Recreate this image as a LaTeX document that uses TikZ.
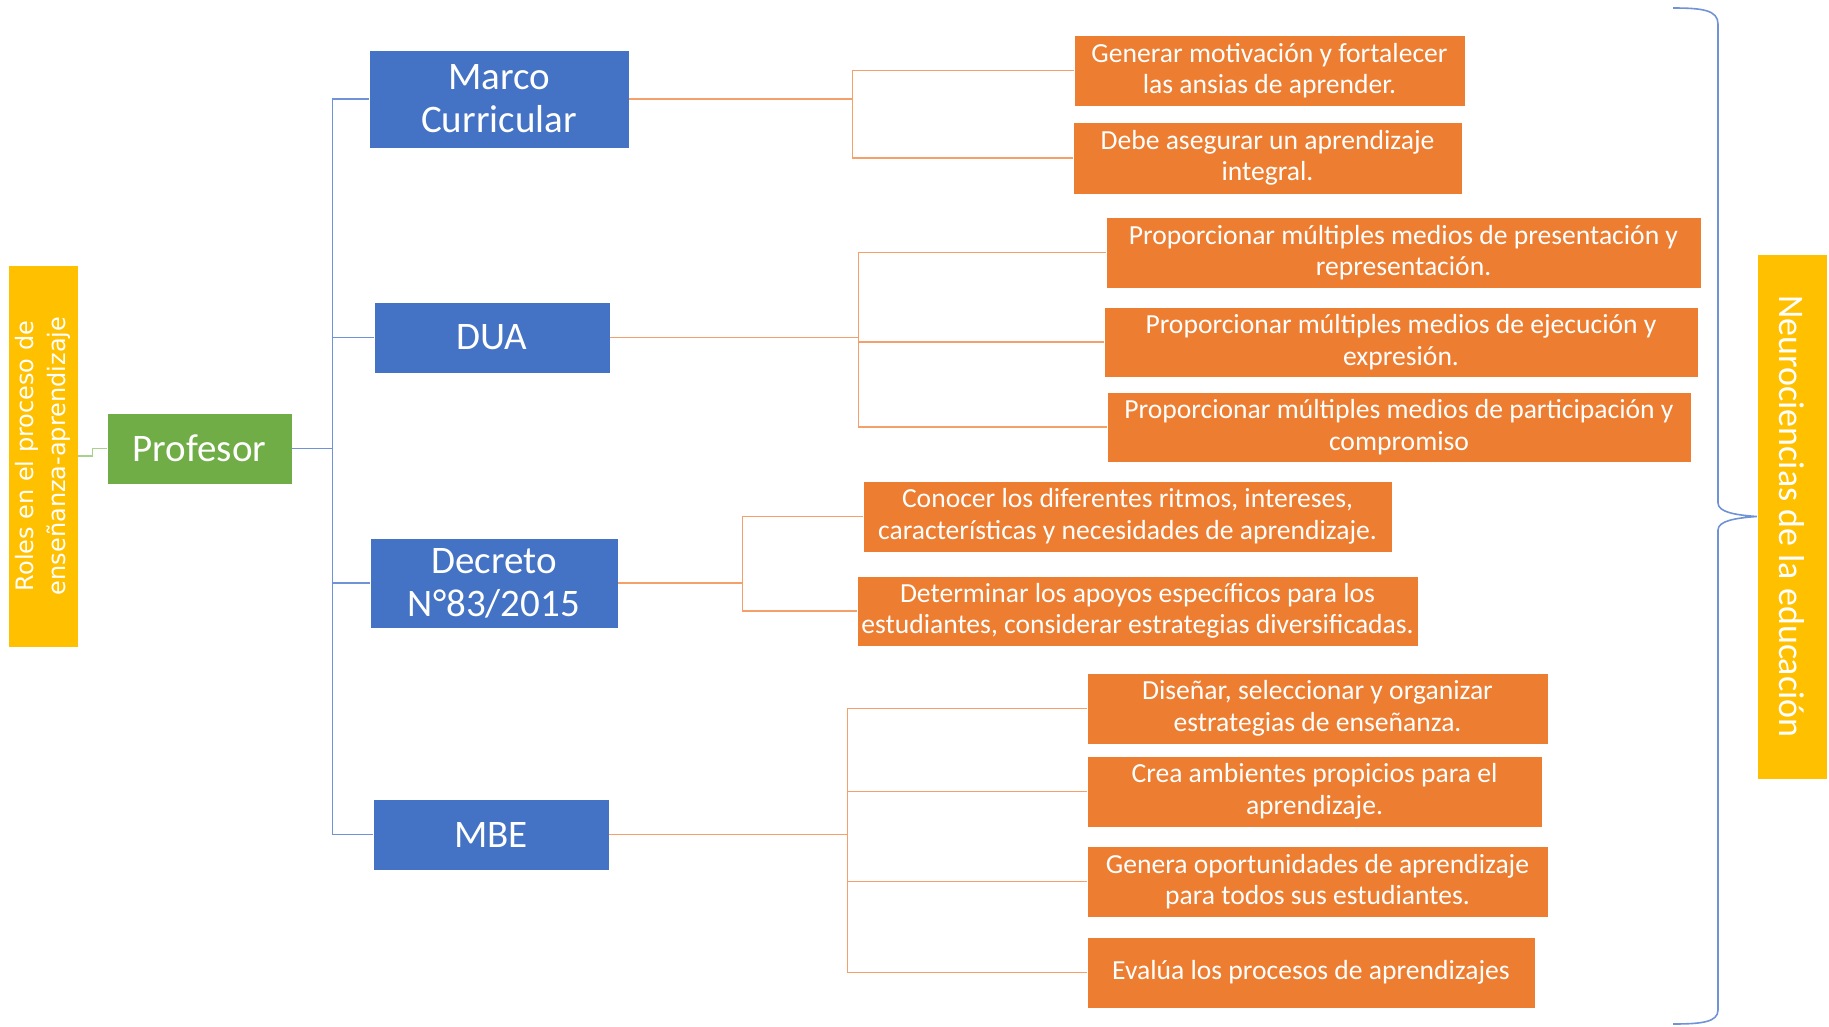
\documentclass[tikz,border=0pt]{standalone}
\usepackage{fontspec}
\setmainfont{Carlito}
\newfontfamily\dejavu{DejaVu Sans}
\definecolor{cblue}{HTML}{4472C4}
\definecolor{cgreen}{HTML}{70AD47}
\definecolor{corange}{HTML}{ED7D31}
\definecolor{cyellow}{HTML}{FFC000}
\definecolor{lblue}{HTML}{6F93D6}
\definecolor{lorange}{HTML}{F5A06A}
\definecolor{lgreen}{HTML}{A9D18E}
\tikzset{
  box/.style={rectangle, inner sep=0pt, text=white, align=center, draw=white, line width=0.6pt},
  bluebox/.style={box, fill=cblue, font=\fontsize{39}{43}\selectfont},
  orbox/.style={box, fill=corange, font=\fontsize{27.6}{31.5}\selectfont},
  yelbox/.style={box, fill=cyellow},
  blueline/.style={draw=lblue, line width=1.6pt},
  orline/.style={draw=lorange, line width=1.6pt},
  greenline/.style={draw=lgreen, line width=1.6pt},
}
\begin{document}
\begin{tikzpicture}[x=1pt,y=-1pt]
\useasboundingbox (0,0) rectangle (1829,1026);
% left title
\node[yelbox, rotate=90, minimum width=382pt, minimum height=70pt,
  font=\dejavu\fontsize{24}{32}\selectfont] (roles) at (43,456)
  {Roles en el proceso de\\enseñanza-aprendizaje};
\node[box, fill=cgreen, minimum width=185pt, minimum height=71pt,
  font=\fontsize{39}{43}\selectfont] (prof) at (199.5,448.5) {Profesor};
% blue boxes
\node[bluebox, minimum width=260pt, minimum height=98pt] (marco) at (499,99) {Marco\\Curricular};
\node[bluebox, minimum width=236pt, minimum height=71pt] (dua) at (492,337.5) {DUA};
\node[bluebox, minimum width=248pt, minimum height=90pt] (decreto) at (494,583) {Decreto\\N°83/2015};
\node[bluebox, minimum width=236pt, minimum height=71pt] (mbe) at (491,834.5) {MBE};
% orange boxes
\node[orbox, minimum width=391pt, minimum height=71pt] (o1) at (1269.5,70.5) {Generar motivación y fortalecer\\las ansias de aprender.};
\node[orbox, minimum width=389pt, minimum height=72pt] (o2) at (1267.5,158) {Debe asegurar un aprendizaje\\integral.};
\node[orbox, minimum width=595pt, minimum height=71pt] (o3) at (1403.5,252.5) {Proporcionar múltiples medios de presentación y\\representación.};
\node[orbox, minimum width=594pt, minimum height=70pt] (o4) at (1401,342) {Proporcionar múltiples medios de ejecución y\\expresión.};
\node[orbox, minimum width=584pt, minimum height=70pt] (o5) at (1399,427) {Proporcionar múltiples medios de participación y\\compromiso};
\node[orbox, minimum width=529pt, minimum height=71pt] (o6) at (1127.5,516.5) {Conocer los diferentes ritmos, intereses,\\características y necesidades de aprendizaje.};
\node[orbox, minimum width=561pt, minimum height=70pt] (o7) at (1137.5,611) {Determinar los apoyos específicos para los\\estudiantes, considerar estrategias diversificadas.};
\node[orbox, minimum width=461pt, minimum height=71pt] (o8) at (1317.5,708.5) {Diseñar, seleccionar y organizar\\estrategias de enseñanza.};
\node[orbox, minimum width=455pt, minimum height=71pt] (o9) at (1314.5,791.5) {Crea ambientes propicios para el\\aprendizaje.};
\node[orbox, minimum width=461pt, minimum height=71pt] (o10) at (1317.5,881.5) {Genera oportunidades de aprendizaje\\para todos sus estudiantes.};
\node[orbox, minimum width=448pt, minimum height=71pt] (o11) at (1311,972.5) {Evalúa los procesos de aprendizajes};
% right title
\node[yelbox, rotate=-90, minimum width=525pt, minimum height=70pt,
  font=\fontsize{36}{40}\selectfont] (neuro) at (1792,516.5) {Neurociencias de la educación};
% connectors
\draw[greenline] (roles.south) -- ++(14,0) |- (prof.west);
\foreach \t in {marco,dua,decreto,mbe}
  \draw[blueline] (prof.east) -- ++(40,0) |- (\t.west);
\foreach \t in {o1,o2}
  \draw[orline] (marco.east) -- ++(223,0) |- (\t.west);
\foreach \t in {o3,o4,o5}
  \draw[orline] (dua.east) -- ++(248,0) |- (\t.west);
\foreach \t in {o6,o7}
  \draw[orline] (decreto.east) -- ++(124,0) |- (\t.west);
\foreach \t in {o8,o9,o10,o11}
  \draw[orline] (mbe.east) -- ++(238,0) |- (\t.west);
% brace
\coordinate (btop) at (1673,8);
\coordinate (bbot) at (1673,1024);
\draw[blueline] (btop) .. controls (1702,8) and (1718,10) .. (1718,24)
  -- (1718,503) .. controls (1718,512) and (1735,515) .. (neuro.south)
  .. controls (1735,518) and (1718,521) .. (1718,530)
  -- (1718,1010) .. controls (1718,1022) and (1702,1024) .. (bbot);
\end{tikzpicture}
\end{document}
